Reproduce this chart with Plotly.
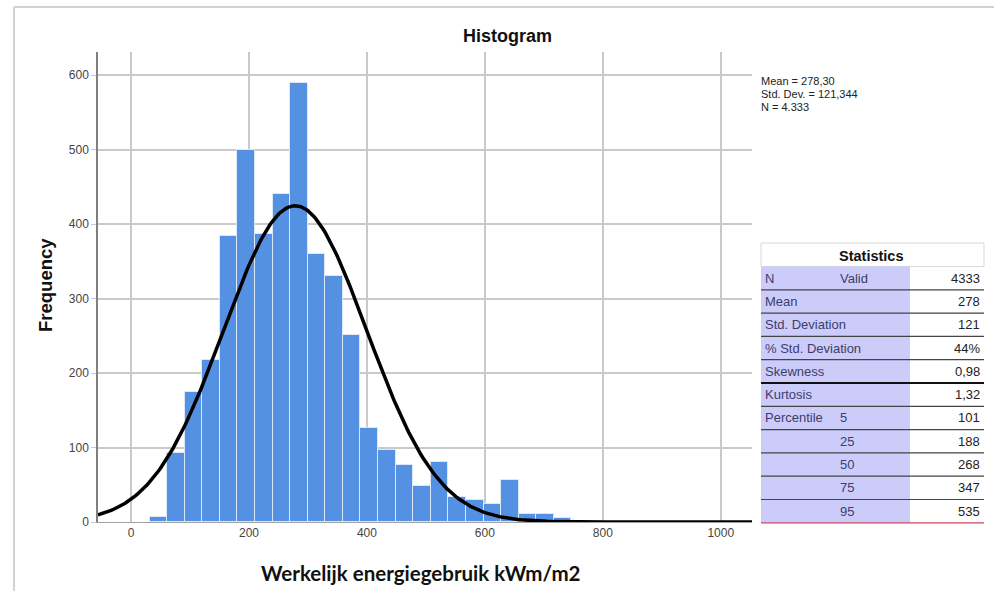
import math
import plotly.graph_objects as go

# ---------------- data ----------------
bin_start = 31.5
bin_width = 29.8
counts = [7, 92, 175, 218, 384, 500, 386, 441, 590, 360, 330, 251,
          126, 97, 77, 49, 81, 33, 29, 24, 56, 11, 11, 6]

mean_val = 278.30
sd_val = 121.344
n_val = 4333

x_ticks = [0, 200, 400, 600, 800, 1000]
y_ticks = [0, 100, 200, 300, 400, 500, 600]

stat_labels = ["N", "Mean", "Std. Deviation", "% Std. Deviation", "Skewness",
               "Kurtosis", "Percentile", "", "", "", ""]
stat_sub = ["Valid", "", "", "", "", "", "5", "25", "50", "75", "95"]
stat_values = ["4333", "278", "121", "44%", "0,98", "1,32", "101", "188", "268", "347", "535"]

summary_lines = ["Mean = 278,30", "Std. Dev. = 121,344", "N = 4.333"]

# ---------------- figure ----------------
W, H = 994, 591
L, R, T, B = 98, 752, 52, 522


def px(x):
    return (x - L) / (R - L)


def py(y):
    return (B - y) / (B - T)


centers = [bin_start + bin_width * (i + 0.5) for i in range(len(counts))]

x_min, x_max = -56, 1053
ncurve = 400
cx = [x_min + (x_max - x_min) * i / (ncurve - 1) for i in range(ncurve)]
scale = n_val * bin_width / (sd_val * math.sqrt(2 * math.pi))
cy = [scale * math.exp(-0.5 * ((v - mean_val) / sd_val) ** 2) for v in cx]

fig = go.Figure()
fig.add_trace(go.Bar(x=centers, y=counts, width=bin_width,
                     marker=dict(color="#5591e2", line=dict(color="#dce8f8", width=1)),
                     hoverinfo="skip"))
fig.add_trace(go.Scatter(x=cx, y=cy, mode="lines",
                         line=dict(color="black", width=3.5), hoverinfo="skip"))

tickfont = dict(family="Liberation Sans, Arial", size=12, color="#444")
fig.update_layout(
    width=W, height=H,
    margin=dict(l=L, r=W - R, t=T, b=H - B),
    paper_bgcolor="white", plot_bgcolor="white",
    showlegend=False, bargap=0,
    xaxis=dict(range=[x_min, x_max], tickvals=x_ticks, showgrid=True,
               gridcolor="#c9c9c9", gridwidth=1.5, zeroline=False,
               showline=True, linecolor="#a0a0a0", linewidth=1,
               ticks="", tickfont=tickfont),
    yaxis=dict(range=[0, 631], tickvals=y_ticks, showgrid=True,
               gridcolor="#c9c9c9", gridwidth=1.5, zeroline=False,
               showline=True, linecolor="#808080", linewidth=1.5,
               ticks="outside", ticklen=5, tickcolor="#c9c9c9",
               tickfont=tickfont),
)

shapes = []
annotations = []

# outer frame lines
shapes.append(dict(type="line", xref="paper", yref="paper", x0=px(14), x1=px(994),
                   y0=py(7), y1=py(7), line=dict(color="#d2d2d2", width=2)))
shapes.append(dict(type="line", xref="paper", yref="paper", x0=px(14), x1=px(14),
                   y0=py(7), y1=py(591), line=dict(color="#d2d2d2", width=2)))

# title and axis titles
annotations.append(dict(text="<b>Histogram</b>", x=px(507), y=py(36), xref="paper", yref="paper",
                        showarrow=False, xanchor="center", yanchor="middle",
                        font=dict(family="Liberation Sans, Arial", size=18, color="#111")))
annotations.append(dict(text="<b>Frequency</b>", x=px(45), y=py(285), xref="paper", yref="paper",
                        showarrow=False, xanchor="center", yanchor="middle", textangle=-90,
                        font=dict(family="Liberation Sans, Arial", size=18.5, color="#111")))
annotations.append(dict(text="<b>Werkelijk energiegebruik kWm/m2</b>", x=px(421), y=py(573),
                        xref="paper", yref="paper", showarrow=False,
                        xanchor="center", yanchor="middle",
                        font=dict(family="Lato", size=20.5, color="#111")))

# summary text
for k, txt in enumerate(summary_lines):
    annotations.append(dict(text=txt, x=px(759), y=py(81 + 13 * k), xref="paper", yref="paper",
                            showarrow=False, xanchor="left", yanchor="middle",
                            font=dict(family="Liberation Sans, Arial", size=11, color="#222")))

# statistics table
tx0, tx1, tmid = 761, 984, 910
top, head_h, row_h = 243, 23.5, 23.3
shapes.append(dict(type="rect", xref="paper", yref="paper", x0=px(tx0), x1=px(tx1),
                   y0=py(top), y1=py(top + head_h), fillcolor="white",
                   line=dict(color="#d8d8d8", width=1)))
annotations.append(dict(text="<b>Statistics</b>", x=px(871), y=py(top + head_h / 2 + 1),
                        xref="paper", yref="paper", showarrow=False,
                        xanchor="center", yanchor="middle",
                        font=dict(family="Liberation Sans, Arial", size=14.5, color="#111")))
rows_top = top + head_h
nrows = len(stat_values)
shapes.append(dict(type="rect", xref="paper", yref="paper", x0=px(tx0), x1=px(tmid),
                   y0=py(rows_top), y1=py(rows_top + nrows * row_h),
                   fillcolor="#ccccfa", line=dict(width=0), layer="above"))
lab_font = dict(family="Liberation Sans, Arial", size=13, color="#3d3d6b")
for i in range(nrows):
    yc = rows_top + (i + 0.5) * row_h
    ybot = rows_top + (i + 1) * row_h
    if i < nrows - 1:
        lw = 2 if i == 4 else 1.2
        lc = "#111" if i == 4 else "#444"
    else:
        lw, lc = 1.2, "#c8475e"
    shapes.append(dict(type="line", xref="paper", yref="paper", x0=px(tx0), x1=px(tx1),
                       y0=py(ybot), y1=py(ybot), line=dict(color=lc, width=lw), layer="above"))
    if stat_labels[i]:
        annotations.append(dict(text=stat_labels[i], x=px(763), y=py(yc), xref="paper", yref="paper",
                                showarrow=False, xanchor="left", yanchor="middle", font=lab_font))
    if stat_sub[i]:
        annotations.append(dict(text=stat_sub[i], x=px(838), y=py(yc), xref="paper", yref="paper",
                                showarrow=False, xanchor="left", yanchor="middle", font=lab_font))
    annotations.append(dict(text=stat_values[i], x=px(982), y=py(yc), xref="paper", yref="paper",
                            showarrow=False, xanchor="right", yanchor="middle",
                            font=dict(family="Liberation Sans, Arial", size=13, color="#222")))

fig.update_layout(shapes=shapes, annotations=annotations)
fig.write_html("out.html", config={"displayModeBar": False},
               post_script="document.body.style.margin='0';")
